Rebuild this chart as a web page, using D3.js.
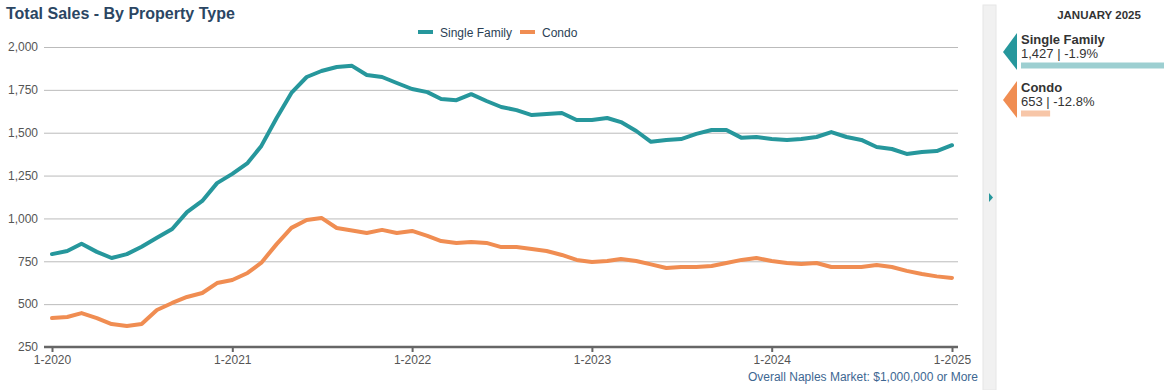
<!DOCTYPE html>
<html lang="en">
  <head>
    <meta charset="utf-8">
    <script src="https://d3js.org/d3.v7.min.js"></script>
    <style>
body {
  margin: 0;
  background: #fff;
  font-family: Arial, "Liberation Sans", Helvetica, sans-serif;
}

.grid line {
  stroke: #bbb;
  stroke-width: 1px;
}

.grid path {
  display: none;
}

.y-axis text,
.x-axis text {
  fill: #555;
  font-size: 12px;
}
    </style>
    <title>Total Sales - By Property Type</title>
  </head>
  <body>
    <script>
// months Jan 2020 .. Jan 2025
var months = d3.range(61).map(function(i) { return new Date(2020, i, 1); });

var singleFamily = [792, 810, 852, 805, 769, 792, 835, 887, 938, 1037,
                    1102, 1206, 1260, 1323, 1423, 1586, 1732, 1825, 1860, 1883,
                    1890, 1837, 1825, 1790, 1755, 1737, 1697, 1690, 1725, 1685,
                    1650, 1632, 1603, 1609, 1615, 1574, 1574, 1586, 1562, 1510,
                    1447, 1458, 1463, 1493, 1516, 1516, 1470, 1475, 1463, 1458,
                    1463, 1475, 1504, 1475, 1458, 1417, 1405, 1376, 1388, 1393,
                    1427];

var condo = [419, 425, 448, 419, 384, 373, 384, 466, 507, 542,
             565, 623, 641, 682, 742, 850, 945, 991, 1003, 944,
             930, 915, 933, 915, 927, 898, 868, 857, 863, 857,
             833, 833, 822, 810, 787, 758, 746, 752, 763, 752,
             732, 711, 717, 717, 723, 740, 758, 769, 752, 740,
             734, 740, 717, 717, 717, 728, 717, 694, 676, 662,
             653];

var yTicks = [250, 500, 750, 1000, 1250, 1500, 1750, 2000];
var xTicks = [new Date(2020, 0, 1), new Date(2021, 0, 1), new Date(2022, 0, 1),
              new Date(2023, 0, 1), new Date(2024, 0, 1), new Date(2025, 0, 1)];

var seriesNames = ['Single Family', 'Condo'];
var seriesColors = ['#26979c', '#f08d52'];
var lightColors = ['#9dcfd1', '#f7c6a8'];
var latestValues = [1427, 653];
var latestChange = ['-1.9%', '-12.8%'];

var w = 1164, h = 390;
var svg = d3.select('body').append('svg')
            .attr('width', w)
            .attr('height', h);

var x = d3.scaleTime()
          .domain([months[0], months[months.length - 1]])
          .range([52, 952]);
var y = d3.scaleLinear()
          .domain([250, 2000])
          .range([347, 47]);

// title
svg.append('text')
   .attr('x', 6).attr('y', 19)
   .attr('font-size', 16).attr('font-weight', 'bold')
   .attr('fill', '#2b4663')
   .text('Total Sales - By Property Type');

// gridlines
svg.append('g')
   .attr('class', 'grid')
   .attr('transform', 'translate(44,0)')
   .call(d3.axisLeft(y).tickValues(yTicks.slice(1)).tickSize(-914).tickFormat(''));

// y labels
var yAxis = svg.append('g')
   .attr('class', 'y-axis')
   .attr('transform', 'translate(44,0)')
   .call(d3.axisLeft(y).tickValues(yTicks).tickSize(0).tickPadding(6).tickFormat(d3.format(',')));
yAxis.select('.domain').remove();

// x axis
var xAxis = svg.append('g')
   .attr('class', 'x-axis')
   .attr('transform', 'translate(0,347)')
   .call(d3.axisBottom(x).tickValues(xTicks).tickSize(5).tickPadding(3)
           .tickFormat(function(d) { return (d.getMonth() + 1) + '-' + d.getFullYear(); }));
xAxis.select('.domain')
     .attr('d', 'M44,0H958')
     .attr('stroke', '#666').attr('stroke-width', 2.5);
xAxis.selectAll('.tick line').attr('stroke', '#666').attr('stroke-width', 2);

// lines
var line = d3.line()
             .x(function(d, i) { return x(months[i]); })
             .y(function(d) { return y(d); });

[singleFamily, condo].forEach(function(s, k) {
  svg.append('path')
     .datum(s)
     .attr('fill', 'none')
     .attr('stroke', seriesColors[k])
     .attr('stroke-width', 4)
     .attr('stroke-linejoin', 'round')
     .attr('stroke-linecap', 'round')
     .attr('d', line);
});

// legend
var legend = svg.append('g').attr('transform', 'translate(418,32)');
var lx = [0, 102];
seriesNames.forEach(function(name, k) {
  var g = legend.append('g').attr('transform', 'translate(' + lx[k] + ',0)');
  g.append('line').attr('x1', 0).attr('x2', 15).attr('y1', 0).attr('y2', 0)
   .attr('stroke', seriesColors[k]).attr('stroke-width', 4);
  g.append('text').attr('x', 22).attr('y', 4.5)
   .attr('font-size', 12).attr('fill', '#2b3f55')
   .text(name);
});

// footer
svg.append('text')
   .attr('x', 978).attr('y', 381)
   .attr('text-anchor', 'end')
   .attr('font-size', 12).attr('fill', '#3d6792')
   .text('Overall Naples Market: $1,000,000 or More');

// side strip
svg.append('rect')
   .attr('x', 983).attr('y', 5).attr('width', 13).attr('height', 385)
   .attr('fill', '#f1f1f1').attr('stroke', '#e6e6e6');
svg.append('path')
   .attr('d', 'M989,193L993,197.5L989,202Z')
   .attr('fill', seriesColors[0]);

// side panel
svg.append('text')
   .attr('x', 1099).attr('y', 19)
   .attr('text-anchor', 'middle')
   .attr('font-size', 11.5).attr('font-weight', 'bold').attr('fill', '#333')
   .text('JANUARY 2025');

var barX = d3.scaleLinear().domain([455, 1427]).range([0, 143]);

seriesNames.forEach(function(name, k) {
  var top = 33 + k * 48;
  var g = svg.append('g').attr('transform', 'translate(0,' + top + ')');
  g.append('path')
   .attr('d', 'M1003,19L1017,0L1017,37Z')
   .attr('fill', seriesColors[k]);
  g.append('text').attr('x', 1021).attr('y', 11)
   .attr('font-size', 13).attr('font-weight', 'bold').attr('fill', '#333')
   .text(name);
  g.append('text').attr('x', 1021).attr('y', 25)
   .attr('font-size', 13).attr('fill', '#333')
   .text(d3.format(',')(latestValues[k]) + ' | ' + latestChange[k]);
  g.append('rect')
   .attr('x', 1021).attr('y', 29.5)
   .attr('width', barX(latestValues[k])).attr('height', 6)
   .attr('fill', lightColors[k]);
});
    </script>
  </body>
</html>
